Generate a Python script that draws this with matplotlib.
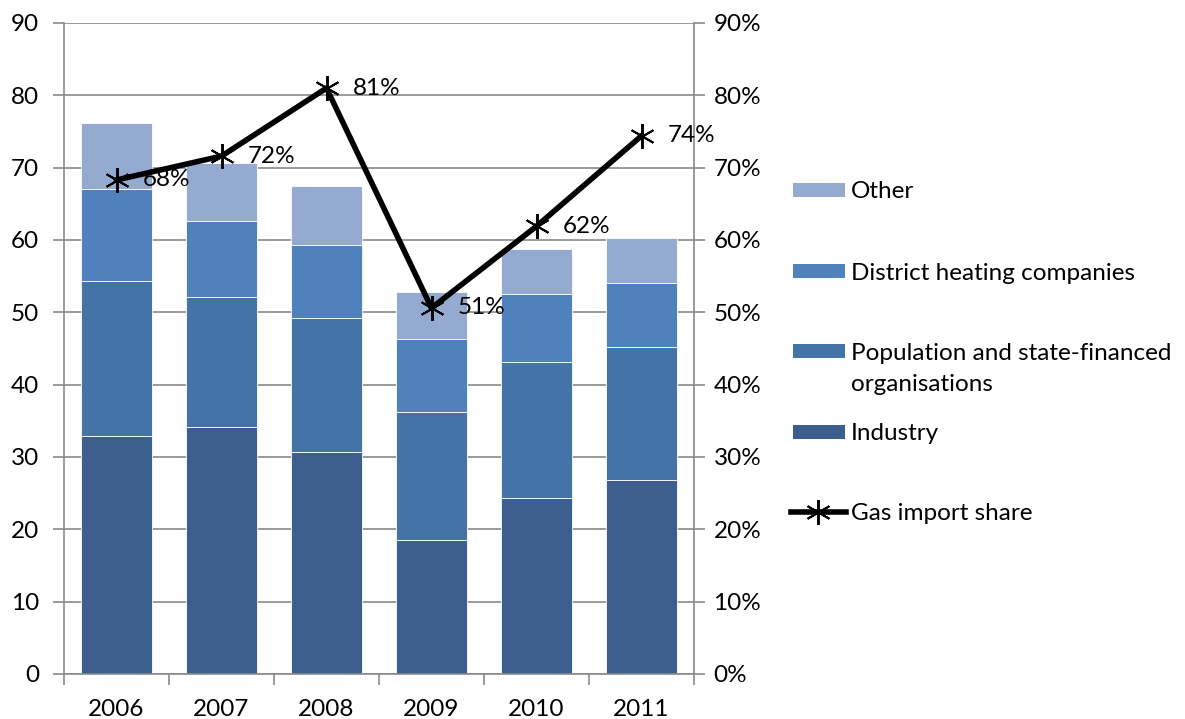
import numpy as np
import matplotlib
matplotlib.use('Agg')
import matplotlib.pyplot as plt
from matplotlib.patches import Rectangle
from matplotlib.lines import Line2D
from matplotlib.ticker import FuncFormatter

plt.rcParams['font.family'] = ['Lato', 'DejaVu Sans']
plt.rcParams['font.size'] = 17.5

years = ['2006', '2007', '2008', '2009', '2010', '2011']
industry = [32.9, 34.2, 30.7, 18.5, 24.3, 26.8]
population = [21.4, 17.9, 18.5, 17.7, 18.8, 18.4]
district_heating = [12.8, 10.5, 10.1, 10.1, 9.5, 8.8]
other = [9.1, 8.0, 8.1, 6.5, 6.2, 6.3]
import_share = [68.3, 71.6, 81.0, 50.6, 61.9, 74.4]   # percent
share_labels = ['68%', '72%', '81%', '51%', '62%', '74%']

series_vals = [industry, population, district_heating, other]
colors = ['#3C5F8F', '#4473A8', '#4F81BD', '#95AAD1']
grid_col = '#8a8a8a'

fig = plt.figure(figsize=(11.85, 7.19), dpi=100)
ax = fig.add_axes([64/1185, 45/719, 630/1185, 651/719])
x = np.arange(len(years))
bottom = np.zeros(len(years))
for vals, col in zip(series_vals, colors):
    ax.bar(x, vals, width=0.667, bottom=bottom, color=col, edgecolor='white', linewidth=0.6, zorder=2)
    bottom += np.array(vals)

ax.set_xlim(-0.5, len(years) - 0.5)
ax.set_ylim(0, 90)
ax.set_yticks(np.arange(0, 91, 10))
ax.yaxis.grid(True, color=grid_col, linewidth=1.2, zorder=0)
ax.set_axisbelow(True)
ax.set_xticks(x)
ax.set_xticklabels(years)
ax.tick_params(axis='x', length=0, pad=18)
ax.set_xticks(np.arange(-0.5, len(years)), minor=True)
ax.tick_params(axis='x', which='minor', length=8, color=grid_col, width=1.2, direction='out')
ax.tick_params(axis='y', length=8, color=grid_col, width=1.2, direction='out', pad=10)
for s in ['top', 'right']:
    ax.spines[s].set_visible(False)
for s in ['left', 'bottom']:
    ax.spines[s].set_color(grid_col)
    ax.spines[s].set_linewidth(1.2)

ax2 = ax.twinx()
ax2.set_ylim(0, 90)
ax2.set_yticks(np.arange(0, 91, 10))
ax2.yaxis.set_major_formatter(FuncFormatter(lambda v, p: '%d%%' % v))
ax2.tick_params(axis='y', length=8, color=grid_col, width=1.2, direction='out', pad=6)
for s in ['top', 'left', 'bottom']:
    ax2.spines[s].set_visible(False)
ax2.spines['right'].set_color(grid_col)
ax2.spines['right'].set_linewidth(1.2)

ax2.plot(x, import_share, color='black', linewidth=4, marker=(6, 2, 0),
         markersize=18, markeredgewidth=1.4, markeredgecolor='black', zorder=5)
for xi, yi, lab in zip(x, import_share, share_labels):
    ax2.annotate(lab, (xi, yi), xytext=(19, 0), textcoords='offset points',
                 va='center', ha='left')

# legend drawn by hand to match the original layout
leg_y = [190, 271, 351, 432, 512]
leg_names = ['Other', 'District heating companies',
             'Population and state-financed\norganisations', 'Industry', 'Gas import share']
leg_cols = [colors[3], colors[2], colors[1], colors[0], None]
for yy, name, col in zip(leg_y, leg_names, leg_cols):
    fy = 1 - yy / 719
    if col is not None:
        fig.patches.append(Rectangle((793/1185, fy - 7/719), 52/1185, 14/719,
                                     facecolor=col, transform=fig.transFigure))
    else:
        fig.lines.append(Line2D([791/1185, 846/1185], [fy, fy], color='black', linewidth=4,
                                transform=fig.transFigure))
        fig.lines.append(Line2D([818/1185], [fy], marker=(6, 2, 0), markersize=18,
                                markeredgewidth=1.4, color='black', transform=fig.transFigure))
    for k, line in enumerate(name.split('\n')):
        fig.text(851/1185, fy - k * 32/719, line, va='center_baseline', ha='left')

fig.savefig('out.png', dpi=100)
